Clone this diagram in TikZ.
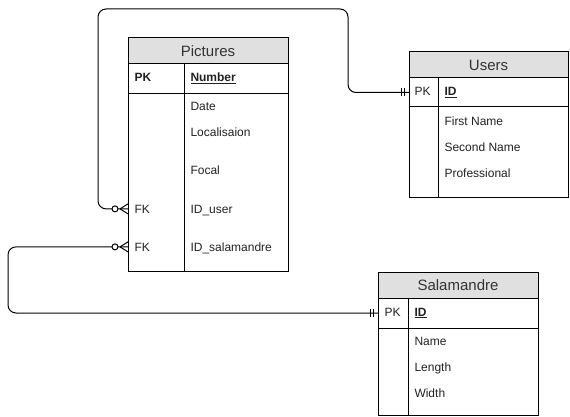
\documentclass[tikz,border=0pt]{standalone}
\usepackage{fontspec}
\setmainfont{Liberation Sans}
\definecolor{titlegray}{RGB}{224,224,224}
\definecolor{titletext}{RGB}{51,51,51}
\definecolor{fieldtext}{RGB}{34,34,34}
\tikzset{
  ttl/.style={draw, fill=titlegray, minimum width=160pt, minimum height=26pt, outer sep=0pt,
    anchor=north west, inner sep=0pt, font=\fontsize{15}{18}\selectfont, text=titletext},
  tblrow/.style={draw, minimum width=160pt, anchor=north west, inner sep=0pt, outer sep=0pt},
  fld/.style={anchor=base west, inner sep=0pt, font=\fontsize{12}{14}\selectfont, text=fieldtext},
  conn/.style={rounded corners=8pt},
}
\begin{document}
\begin{tikzpicture}[x=1pt,y=-1pt,line width=1pt]
\useasboundingbox (0,0) rectangle (570,417);

% ---------- Pictures ----------
\node[ttl] (pT) at (128,38) {Pictures};
\node[tblrow, minimum height=30pt] (pP) at (pT.south west) {};
\node[tblrow, minimum height=177pt] (pB) at (pP.south west) {};
\draw (pP.north west) ++(56,0) -- ++(0,207);
\node[fld, font=\fontsize{12}{14}\selectfont\bfseries] (pPK) at (134,82) {PK};
\node[fld, font=\fontsize{12}{14}\selectfont\bfseries] (pNum) at (190,82) {\underline{Number}};
\node[fld] (pDate) at (190,111) {Date};
\node[fld] (pLoc) at (190,137) {Localisaion};
\node[fld] (pFoc) at (190,175) {Focal};
\node[fld] (pFK1) at (134,213) {FK};
\node[fld] (pIdU) at (190,213) {ID\_user};
\node[fld] (pFK2) at (134,251) {FK};
\node[fld] (pIdS) at (190,251) {ID\_salamandre};

% ---------- Users ----------
\node[ttl, minimum width=159pt] (uT) at (409,52) {Users};
\node[tblrow, minimum width=159pt, minimum height=29pt] (uP) at (uT.south west) {};
\node[tblrow, minimum width=159pt, minimum height=90pt] (uB) at (uP.south west) {};
\draw (uP.north west) ++(29,0) -- ++(0,119);
\node[fld] (uPK) at (414,96) {PK};
\node[fld, font=\fontsize{12}{14}\selectfont\bfseries] (uID) at (444,96) {\underline{ID}};
\node[fld] (uFN) at (444,125) {First Name};
\node[fld] (uSN) at (444,151) {Second Name};
\node[fld] (uPr) at (444,177) {Professional};

% ---------- Salamandre ----------
\node[ttl] (sT) at (378,272) {Salamandre};
\node[tblrow, minimum height=30pt] (sP) at (sT.south west) {};
\node[tblrow, minimum height=87pt] (sB) at (sP.south west) {};
\draw (sP.north west) ++(30,0) -- ++(0,117);
\node[fld] (sPK) at (384,316) {PK};
\node[fld, font=\fontsize{12}{14}\selectfont\bfseries] (sID) at (414,316) {\underline{ID}};
\node[fld] (sNa) at (414,345) {Name};
\node[fld] (sLe) at (414,371) {Length};
\node[fld] (sWi) at (414,397) {Width};

% ---------- connectors ----------
\coordinate (fkU) at (pB.west |- pFK1.west);
\coordinate (fkS) at (pB.west |- pFK2.west);
\coordinate (topR) at (348,9);
\coordinate (topL) at (98,9);
\coordinate (leftB) at (8,280);

\draw[conn] (uP.west) -| (topR) -- (topL) |- (fkU);
\draw[conn] (sP.west) -| (leftB) |- (fkS);

% zero-or-many ends
\foreach \p in {fkU,fkS} {
  \draw (\p) ++(-8,0) -- ++(8,-5);
  \draw (\p) ++(-8,0) -- ++(8,5);
  \draw[fill=white] (\p) ++(-13,0) circle (3pt);
}
% exactly-one ends
\foreach \p in {uP.west,sP.west} {
  \draw (\p) ++(-5,-4) -- ++(0,8);
  \draw (\p) ++(-8,-4) -- ++(0,8);
}
\end{tikzpicture}
\end{document}
